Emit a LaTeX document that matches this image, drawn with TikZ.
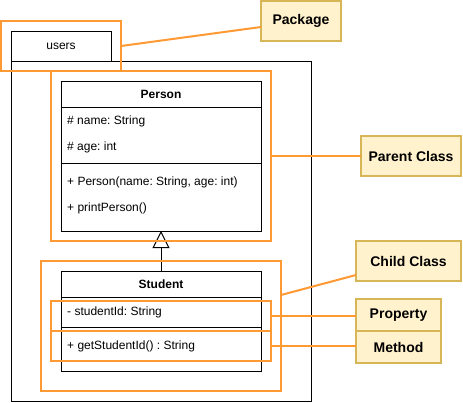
\documentclass[tikz,border=0pt]{standalone}
\usepackage{fontspec}
\setmainfont{Liberation Sans}
\usetikzlibrary{arrows.meta}
\definecolor{hl}{HTML}{FF9933}
\definecolor{lblfill}{HTML}{FFF2CC}
\definecolor{lbldraw}{HTML}{D6B656}
\frenchspacing
\begin{document}
\begin{tikzpicture}[x=1pt,y=-1pt,
  rect/.style 2 args={minimum width=#1,minimum height=#2,inner sep=0pt,outer sep=0pt},
  umlbox/.style={draw=black,line width=1pt,fill=white},
  hlbox/.style={draw=hl,line width=2pt},
  hlline/.style={draw=hl,line width=2pt},
  lbl/.style={draw=lbldraw,fill=lblfill,line width=1.5pt,font=\fontsize{14}{16}\selectfont\bfseries},
  txt/.style={inner sep=0pt,anchor=base west,font=\fontsize{12}{14}\selectfont},
  hdr/.style={inner sep=0pt,anchor=base,font=\fontsize{12}{14}\selectfont\bfseries},
  sep/.style={draw=black,line width=1pt}
]
\useasboundingbox (0,0) rectangle (463,402);
% package
\node[umlbox,rect={300}{340}] (pkg) at (161,231) {};
\node[umlbox,rect={100}{30},font=\fontsize{12}{14}\selectfont] (tab) at (61,46) {users};
% Person
\node[umlbox,rect={200}{150}] (person) at (161,156) {};
\draw[sep] (61,107) -- (261,107);
\draw[sep] (61,163) -- (261,163);
\node[hdr] (pname) at (161,98.3) {Person};
\node[txt] (pa1) at (67,124.5) {\# name: String};
\node[txt] (pa2) at (67,150.5) {\# age: int};
\node[txt] (pm1) at (67,185.3) {+ Person(name: String, age: int)};
\node[txt] (pm2) at (67,211.3) {+ printPerson()};
% Student
\node[umlbox,rect={200}{100}] (student) at (161,321) {};
\draw[sep] (61,297) -- (261,297);
\draw[sep] (61,327) -- (261,327);
\node[hdr] (sname) at (161,288.3) {Student};
\node[txt] (sa1) at (67,315) {- studentId: String};
\node[txt] (sm1) at (67,349.3) {+ getStudentId() : String};
% inheritance
\draw[line width=1pt,-{Triangle[open,length=17pt,width=17pt,fill=white]}] (student.north) -- (person.south);
% highlight boxes
\node[hlbox,rect={120}{50}] (pkgbox) at (61,46) {};
\node[hlbox,rect={220}{170}] (parentbox) at (161,156) {};
\node[hlbox,rect={240}{130}] (childbox) at (161,326) {};
\node[hlbox,rect={220}{30}] (propbox) at (161,316) {};
\node[hlbox,rect={220}{30}] (methbox) at (161,346) {};
% labels
\node[lbl,rect={80}{40}] (pkglabel) at (301,21) {Package};
\node[lbl,rect={100}{40}] (parentlabel) at (411,156) {Parent Class};
\node[lbl,rect={105}{40}] (childlabel) at (408.5,261) {Child Class};
\node[lbl,rect={85}{32}] (proplabel) at (398.5,315) {Property};
\node[lbl,rect={85}{32}] (methlabel) at (398.5,347) {Method};
% connectors
\draw[hlline] (pkgbox.east) -- ([yshift=-6pt]pkglabel.west);
\draw[hlline] (parentbox.east) -- (parentlabel.west);
\draw[hlline] ([yshift=31pt]childbox.east) -- ([yshift=-14pt]childlabel.west);
\draw[hlline] (propbox.east) -- (propbox.east -| proplabel.west);
\draw[hlline] (methbox.east) -- (methbox.east -| methlabel.west);
\end{tikzpicture}
\end{document}
